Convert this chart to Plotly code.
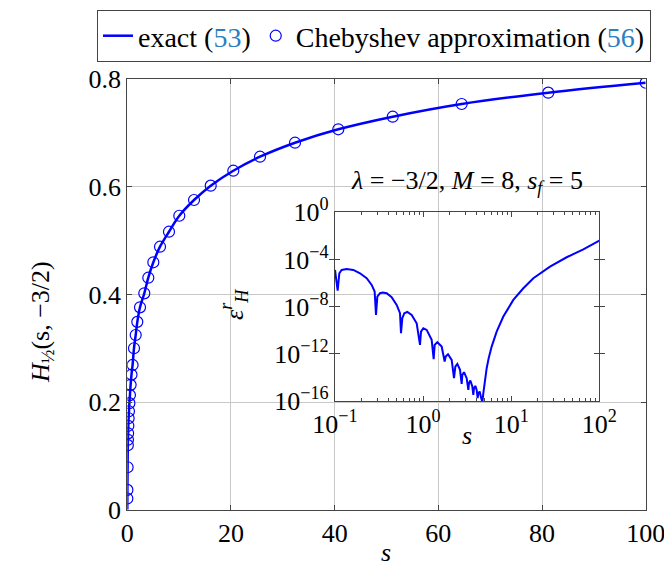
import plotly.graph_objects as go

# ---------------- data ----------------
# Chebyshev approximation sample points (main plot)
s_cheb = [100, 81.2, 64.5, 51.2, 40.7, 32.35, 25.6, 20.45, 16.09, 12.87, 10.03,
          8.04, 6.31, 5.02, 4.05, 3.28, 2.45, 1.93, 1.62, 1.29,
          1.02, 0.81, 0.64, 0.51, 0.40, 0.32, 0.255, 0.20, 0.16, 0.127, 0.10,
          0.06, 0.02, 0.01]
h_cheb = [0.793, 0.7746, 0.7536, 0.730, 0.7066, 0.6817, 0.6557, 0.6297, 0.6019, 0.5753, 0.5461,
          0.5164, 0.4886, 0.4596, 0.431, 0.402, 0.376, 0.349, 0.3246, 0.300,
          0.269, 0.251, 0.232, 0.213, 0.198, 0.183, 0.170, 0.156, 0.142, 0.130, 0.120,
          0.079, 0.037, 0.021]

# exact curve
s_exact = [100, 81.2, 64.5, 51.2, 40.7, 32.35, 25.6, 20.45, 16.09, 12.87, 10.03,
           8.04, 6.31, 5.02, 4.05, 3.28, 2.45, 1.93, 1.62, 1.29,
           1.02, 0.81, 0.64, 0.51, 0.40, 0.32, 0.255, 0.20, 0.16, 0.127, 0.10,
           0.06, 0.02, 0.01, 0.0]
h_exact = [0.793, 0.7746, 0.7536, 0.730, 0.7066, 0.6817, 0.6557, 0.6297, 0.6019, 0.5753, 0.5461,
           0.5164, 0.4886, 0.4596, 0.431, 0.402, 0.376, 0.349, 0.3246, 0.300,
           0.269, 0.251, 0.232, 0.213, 0.198, 0.183, 0.170, 0.156, 0.142, 0.130, 0.120,
           0.079, 0.037, 0.021, 0.0]

# relative error (inset)
s_err = [0.1, 0.1072, 0.1120, 0.1190, 0.1356, 0.1614, 0.1922, 0.2288, 0.2608, 0.2819,
         0.2920, 0.3023, 0.3242, 0.3476, 0.3860, 0.4396, 0.5012, 0.5468, 0.5612, 0.5810,
         0.6124, 0.6622, 0.7419, 0.8452, 0.9222, 0.9466, 1.006, 1.098, 1.251, 1.318,
         1.353, 1.451, 1.625, 1.757, 1.804, 1.918, 2.110, 2.243, 2.322, 2.447,
         2.624, 2.741, 2.788, 2.912, 3.123, 3.262, 3.319, 3.437, 3.622, 3.717,
         3.782, 3.916, 4.055, 4.162, 4.236, 4.386, 4.541, 4.702, 4.828, 5.043,
         5.267, 5.549, 6.001, 6.839, 8.141, 10.57, 13.73, 17.83, 27.57, 42.62,
         65.89, 100]
eps_err = [1.30e-5, 2.30e-7, 6.78e-6, 1.30e-5, 1.58e-5, 1.30e-5, 6.78e-6, 2.55e-6, 6.95e-7, 1.89e-7,
           1.99e-9, 7.13e-8, 1.37e-7, 1.56e-7, 1.37e-7, 6.27e-8, 1.40e-8, 2.76e-9, 5.57e-11, 1.04e-9,
           2.76e-9, 3.58e-9, 1.99e-9, 3.92e-10, 5.71e-12, 7.71e-11, 1.48e-10, 1.07e-10, 1.52e-11, 3.48e-13,
           5.71e-12, 9.62e-12, 4.13e-12, 2.21e-13, 5.86e-13, 9.24e-13, 3.06e-13, 8.55e-15, 8.34e-14, 1.40e-13,
           4.35e-14, 2.83e-15, 1.64e-14, 2.76e-14, 8.55e-15, 8.79e-16, 3.22e-15, 5.42e-15, 1.68e-15, 3.31e-16,
           1.22e-15, 1.91e-15, 8.79e-16, 1.73e-16, 4.58e-16, 6.34e-16, 2.10e-16, 8.0e-17, 4.58e-16, 6.18e-15,
           6.03e-14, 4.24e-13, 4.13e-12, 7.71e-11, 1.44e-9, 3.72e-8, 3.62e-7, 2.55e-6, 2.48e-5, 1.54e-4,
           7.31e-4, 3.97e-3]

main_xticks = [0, 20, 40, 60, 80, 100]
main_yticks = [0, 0.2, 0.4, 0.6, 0.8]
main_yticktext = ["0", "0.2", "0.4", "0.6", "0.8"]
inset_xtickvals = [0.1, 1, 10, 100]
inset_xticktext = ["10<sup>−1</sup>", "10<sup>0</sup>", "10<sup>1</sup>", "10<sup>2</sup>"]
inset_xminor = [0.2, 0.3, 0.4, 0.5, 0.6, 0.7, 0.8, 0.9,
                2, 3, 4, 5, 6, 7, 8, 9,
                20, 30, 40, 50, 60, 70, 80, 90]
inset_ytickvals = [1e-16, 1e-12, 1e-8, 1e-4, 1]
inset_yticktext = ["10<sup>−16</sup>", "10<sup>−12</sup>", "10<sup>−8</sup>", "10<sup>−4</sup>", "10<sup>0</sup>"]

# ---------------- style ----------------
W, H = 664, 572
FONT = "Liberation Serif"
BLUE = "#0000ff"
CITE = "#2b7fbf"
GRID = "#c8c8c8"
FRAME = "#444444"
FS = 26

def px_x(p):
    return p / W

def px_y(p):
    return 1 - p / H

fig = go.Figure()

fig.add_trace(go.Scatter(
    x=s_exact, y=h_exact, mode="lines", line=dict(color=BLUE, width=2.5, shape="spline"),
    name="exact (<span style='color:%s'>53</span>)" % CITE, xaxis="x", yaxis="y"))
fig.add_trace(go.Scatter(
    x=s_cheb, y=h_cheb, mode="markers",
    marker=dict(symbol="circle-open", size=11, color=BLUE, line=dict(width=1.2)),
    name="Chebyshev approximation (<span style='color:%s'>56</span>)" % CITE, xaxis="x", yaxis="y"))
fig.add_trace(go.Scatter(
    x=s_err, y=eps_err, mode="lines", line=dict(color=BLUE, width=2),
    showlegend=False, xaxis="x2", yaxis="y2"))

axis_common = dict(showline=True, linecolor=FRAME, linewidth=1.2, mirror="allticks",
                   ticks="inside", tickcolor=FRAME, ticklen=5, automargin=False,
                   ticklabeloverflow="allow",
                   tickfont=dict(family=FONT, size=FS, color="black"), zeroline=False)

def ann(text, x, y, angle=0):
    return dict(text=text, x=px_x(x), y=px_y(y), xref="paper", yref="paper",
                xanchor="center", yanchor="middle", textangle=angle, showarrow=False,
                font=dict(family=FONT, size=FS, color="black"))

fig.update_layout(
    width=W, height=H, margin=dict(l=0, r=0, t=0, b=0, autoexpand=False),
    paper_bgcolor="white", plot_bgcolor="rgba(0,0,0,0)",
    font=dict(family=FONT, size=FS, color="black"),
    xaxis=dict(domain=[px_x(127.3), px_x(645.7)], range=[0, 100], tickvals=main_xticks,
               showgrid=True, gridcolor=GRID, gridwidth=1, anchor="y", **axis_common),
    yaxis=dict(domain=[px_y(509.8), px_y(79)], range=[0, 0.8], tickvals=main_yticks,
               ticktext=main_yticktext,
               showgrid=True, gridcolor=GRID, gridwidth=1, anchor="x", **axis_common),
    xaxis2=dict(domain=[px_x(335), px_x(599.3)], type="log", range=[-1, 2],
                tickvals=inset_xtickvals, ticktext=inset_xticktext, showgrid=False, anchor="y2",
                **axis_common),
    xaxis3=dict(domain=[px_x(335), px_x(599.3)], type="log", range=[-1, 2], overlaying="x2",
                tickvals=inset_xminor, showticklabels=False, showgrid=False, showline=False,
                ticks="inside", ticklen=3, tickcolor=FRAME, mirror="allticks", anchor="y2",
                zeroline=False, automargin=False),
    yaxis2=dict(domain=[px_y(401), px_y(212.3)], type="log", range=[-16, 0],
                tickvals=inset_ytickvals, ticktext=inset_yticktext, showgrid=False, anchor="x2",
                **axis_common),
    legend=dict(orientation="h", x=px_x(97), y=px_y(10), xanchor="left", yanchor="top",
                bordercolor=FRAME, borderwidth=1, bgcolor="white",
                font=dict(family=FONT, size=28, color="black"), itemwidth=30,
                tracegroupgap=0),
    annotations=[
        ann("<i>H</i><sub>½</sub>(s, −3/2)", 42, 322, -90),
        ann("<i>s</i>", 386, 552),
        ann("<i>s</i>", 467, 436),
        ann("<i>ε</i><sup><i>r</i></sup><sub><i>H</i></sub>", 234, 305, -90),
        ann("<i>λ</i> = −3/2, <i>M</i> = 8, <i>s</i><sub><i>f</i></sub> = 5", 467, 182),
    ],
)

# minor tick axis needs a (hidden) trace to be drawn
fig.add_trace(go.Scatter(x=[s_err[0]], y=[eps_err[0]], mode="markers", marker=dict(opacity=0),
                         showlegend=False, hoverinfo="skip", xaxis="x3", yaxis="y2"))

fig.write_html("out.html")
